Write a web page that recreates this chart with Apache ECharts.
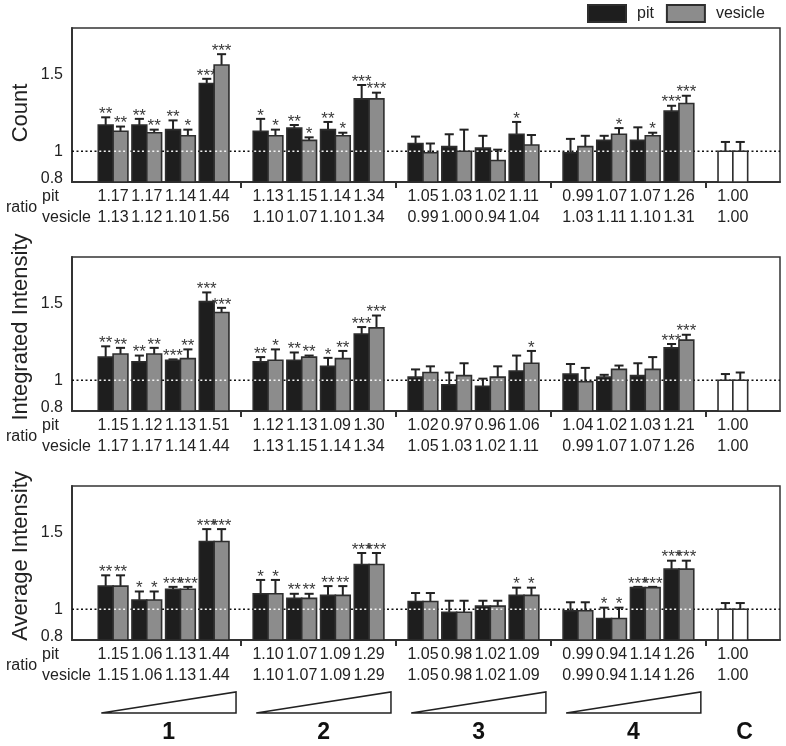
<!DOCTYPE html>
<html><head><meta charset="utf-8">
<script src="https://cdn.jsdelivr.net/npm/echarts@6/dist/echarts.min.js"></script>
<style>html,body{margin:0;padding:0;background:#fff}#c{width:786px;height:746px}</style>
</head><body><div id="c"></div><script>
// ---------- data ----------
const groupLabels = ['1', '2', '3', '4', 'C'];
const panelTitles = ['Count', 'Integrated Intensity', 'Average Intensity'];
const seriesNames = ['pit', 'vesicle'];
const yTickValues = [0.8, 1, 1.5];
const rowLabels = ['pit', 'ratio', 'vesicle'];

// 17 conditions: groups 1-4 (4 doses each) + control C
const countPit      = [1.17,1.17,1.14,1.44, 1.13,1.15,1.14,1.34, 1.05,1.03,1.02,1.11, 0.99,1.07,1.07,1.26, 1.00];
const countPitErr   = [0.05,0.04,0.06,0.03, 0.08,0.02,0.05,0.09, 0.045,0.08,0.08,0.08, 0.09,0.03,0.085,0.035, 0.06];
const countPitSig   = [2,2,2,3, 1,2,2,3, 0,0,0,1, 0,0,0,3, 0];
const countVes      = [1.13,1.12,1.10,1.56, 1.10,1.07,1.10,1.34, 0.99,1.00,0.94,1.04, 1.03,1.11,1.10,1.31, 1.00];
const countVesErr   = [0.03,0.02,0.04,0.07, 0.04,0.02,0.02,0.04, 0.06,0.14,0.07,0.065, 0.07,0.04,0.02,0.05, 0.06];
const countVesSig   = [2,2,1,3, 1,1,1,3, 0,0,0,0, 0,1,1,3, 0];

const intPit        = [1.15,1.12,1.13,1.51, 1.12,1.13,1.09,1.30, 1.02,0.97,0.96,1.06, 1.04,1.02,1.03,1.21, 1.00];
const intPitErr     = [0.07,0.04,0.005,0.06, 0.03,0.05,0.055,0.045, 0.05,0.08,0.05,0.10, 0.065,0.015,0.08,0.025, 0.04];
const intPitSig     = [2,2,3,3, 2,2,1,3, 0,0,0,0, 0,0,0,3, 0];
const intVes        = [1.17,1.17,1.14,1.44, 1.13,1.15,1.14,1.34, 1.05,1.03,1.02,1.11, 0.99,1.07,1.07,1.26, 1.00];
const intVesErr     = [0.04,0.04,0.06,0.03, 0.07,0.01,0.05,0.08, 0.04,0.08,0.07,0.08, 0.09,0.025,0.08,0.035, 0.05];
const intVesSig     = [2,2,2,3, 1,2,2,3, 0,0,0,1, 0,0,0,3, 0];

const avgPit        = [1.15,1.06,1.13,1.44, 1.10,1.07,1.09,1.29, 1.05,0.98,1.02,1.09, 0.99,0.94,1.14,1.26, 1.00];
const avgPitErr     = [0.07,0.055,0.015,0.08, 0.09,0.03,0.06,0.075, 0.055,0.075,0.035,0.05, 0.055,0.07,0.005,0.055, 0.04];
const avgPitSig     = [2,1,3,3, 1,2,2,3, 0,0,0,1, 0,1,3,3, 0];
const avgVes        = [1.15,1.06,1.13,1.44, 1.10,1.07,1.09,1.29, 1.05,0.98,1.02,1.09, 0.99,0.94,1.14,1.26, 1.00];
const avgVesErr     = [0.07,0.055,0.015,0.08, 0.09,0.03,0.06,0.075, 0.055,0.075,0.035,0.05, 0.055,0.07,0.005,0.055, 0.04];
const avgVesSig     = [2,1,3,3, 1,2,2,3, 0,0,0,1, 0,1,3,3, 0];

// ---------- layout / style ----------
const FONT = '"Liberation Sans", Arial, sans-serif';
const PIT_COLOR = '#1e1e1e', VES_COLOR = '#8c8c8c', EDGE = '#2e2e2e';
const GROUP_PITCH = 4.6;            // in units of one bar-pair pitch
const X_MIN = -1.22, X_MAX = 19.8;
const GRID_LEFT = 72, GRID_WIDTH = 708, GRID_H = 154;
const GRID_TOPS = [28, 257, 486];
const titleCenters = [113, 327, 556];

function catX(i) { return i === 16 ? 4 * GROUP_PITCH : Math.floor(i / 4) * GROUP_PITCH + (i % 4); }
const separators = [0, 1, 2, 3].map(g => g * GROUP_PITCH + 3.8);
const idx = countPit.map((_, i) => i);

const panels = [
  { pit: countPit, pitErr: countPitErr, pitSig: countPitSig, ves: countVes, vesErr: countVesErr, vesSig: countVesSig },
  { pit: intPit, pitErr: intPitErr, pitSig: intPitSig, ves: intVes, vesErr: intVesErr, vesSig: intVesSig },
  { pit: avgPit, pitErr: avgPitErr, pitSig: avgPitSig, ves: avgVes, vesErr: avgVesErr, vesSig: avgVesSig }
];

function txt(text, x, y, opt) {
  return Object.assign({ text, x, y, font: '16px ' + FONT, fill: '#222',
    align: 'center', verticalAlign: 'middle', textAlign: 'center', textVerticalAlign: 'middle' }, opt || {});
}

function barRender(side, fill) {
  return function (params, api) {
    const x = api.value(0), v = api.value(1), err = api.value(2), sig = api.value(3), ctrl = api.value(4);
    const unit = api.size([1, 0])[0];
    const bw = unit * 0.44;
    const base = api.coord([x, 0.8]);
    const top = api.coord([x, v]);
    const cx = base[0] + side * bw / 2;
    const capY = api.coord([x, v + err])[1];
    const oneY = api.coord([x, 1])[1];
    const capW = unit * 0.27;
    const ch = [];
    ch.push({ type: 'line', shape: { x1: cx, y1: top[1], x2: cx, y2: capY }, style: { stroke: '#222', lineWidth: 2 } });
    ch.push({ type: 'line', shape: { x1: cx - capW / 2, y1: capY, x2: cx + capW / 2, y2: capY }, style: { stroke: '#222', lineWidth: 2 } });
    ch.push({ type: 'rect', shape: { x: cx - bw / 2, y: top[1], width: bw, height: base[1] - top[1] },
      style: { fill: ctrl ? '#fff' : fill, stroke: EDGE, lineWidth: 1.6 } });
    if (v > 1.005 && !ctrl) {
      ch.push({ type: 'line', shape: { x1: cx - bw / 2 + 1, y1: oneY, x2: cx + bw / 2 - 1, y2: oneY },
        style: { stroke: '#f4f4f4', lineWidth: 1.6, lineDash: [2, 2.5] } });
    }
    if (sig > 0) {
      ch.push({ type: 'text', style: txt('*'.repeat(sig), cx, capY - 3, { fill: '#3a3a3a', font: '17px ' + FONT }) });
    }
    return { type: 'group', children: ch };
  };
}

function ratioRender(params, api) {
  const x = api.value(0);
  const p = api.coord([x, 0.8]);
  return { type: 'group', children: [
    { type: 'text', style: txt(api.value(1).toFixed(2), p[0], p[1] + 15) },
    { type: 'text', style: txt(api.value(2).toFixed(2), p[0], p[1] + 36) }
  ]};
}

function triRender(params, api) {
  const xl = api.value(0), xr = api.value(1), g = api.value(2);
  const unit = api.size([1, 0])[0];
  const b = api.coord([xl, 0.8])[1];
  const ch = [];
  let lx;
  if (g < 4) {
    const L = api.coord([xl, 0.8])[0] - 0.35 * unit;
    const R = api.coord([xr, 0.8])[0] + 0.65 * unit;
    ch.push({ type: 'polygon', shape: { points: [[L, b + 73], [R, b + 73], [R, b + 52]] },
      style: { fill: '#fff', stroke: '#222', lineWidth: 1.5 } });
    lx = (L + R) / 2;
  } else {
    lx = api.coord([xl, 0.8])[0] + 0.35 * unit;
  }
  ch.push({ type: 'text', style: txt(groupLabels[g], lx, b + 93, { font: 'bold 23px ' + FONT, fill: '#111' }) });
  return { type: 'group', children: ch };
}

const grids = [], xAxes = [], yAxes = [], series = [], graphics = [];
panels.forEach((P, k) => {
  grids.push({ left: GRID_LEFT, top: GRID_TOPS[k], width: GRID_WIDTH, height: GRID_H,
    show: true, borderColor: '#333', borderWidth: 1.5, backgroundColor: 'transparent' });
  xAxes.push({ type: 'value', gridIndex: k, min: X_MIN, max: X_MAX,
    axisLine: { show: true, onZero: false, lineStyle: { color: '#333', width: 2 } },
    axisTick: { show: true, inside: false, length: 6, customValues: separators, lineStyle: { color: '#333', width: 2 } },
    axisLabel: { show: false }, splitLine: { show: false } });
  yAxes.push({ type: 'value', gridIndex: k, min: 0.8, max: 1.8,
    axisLine: { show: true, onZero: false, lineStyle: { color: '#333', width: 2 } },
    axisTick: { show: false }, splitLine: { show: false },
    axisLabel: { customValues: yTickValues, margin: 9, color: '#222', fontSize: 16, fontFamily: FONT,
      formatter: v => (Math.abs(v - 0.8) < 1e-6 ? '{low|0.8}' : String(v)),
      rich: { low: { fontSize: 16, fontFamily: FONT, color: '#222', padding: [0, 0, 6, 0] } } } });
  series.push({ type: 'line', xAxisIndex: k, yAxisIndex: k, silent: true, z: 1, symbol: 'none',
    data: [[X_MIN, 1], [X_MAX, 1]], lineStyle: { color: '#111', width: 1.6, type: [2, 2.5] } });
  series.push({ type: 'custom', name: seriesNames[0], xAxisIndex: k, yAxisIndex: k, z: 3, clip: false,
    itemStyle: { color: PIT_COLOR, borderColor: EDGE, borderWidth: 1.5 },
    renderItem: barRender(-1, PIT_COLOR), encode: { x: 0, y: 1 },
    data: idx.map(i => [catX(i), P.pit[i], P.pitErr[i], P.pitSig[i], i === 16 ? 1 : 0]) });
  series.push({ type: 'custom', name: seriesNames[1], xAxisIndex: k, yAxisIndex: k, z: 3, clip: false,
    itemStyle: { color: VES_COLOR, borderColor: EDGE, borderWidth: 1.5 },
    renderItem: barRender(1, VES_COLOR), encode: { x: 0, y: 1 },
    data: idx.map(i => [catX(i), P.ves[i], P.vesErr[i], P.vesSig[i], i === 16 ? 1 : 0]) });
  series.push({ type: 'custom', xAxisIndex: k, yAxisIndex: k, z: 3, clip: false, silent: true,
    renderItem: ratioRender, encode: { x: 0, y: 1 },
    data: idx.map(i => [catX(i), P.pit[i], P.ves[i]]) });
  const b = GRID_TOPS[k] + GRID_H;
  graphics.push({ type: 'text', x: 21, y: titleCenters[k], rotation: Math.PI / 2,
    style: txt(panelTitles[k], 0, 0, { font: '22px ' + FONT, fill: '#222' }) });
  graphics.push({ type: 'text', x: 42, y: b + 15, style: txt(rowLabels[0], 0, 0, { align: 'left', textAlign: 'left' }) });
  graphics.push({ type: 'text', x: 6, y: b + 26, style: txt(rowLabels[1], 0, 0, { align: 'left', textAlign: 'left' }) });
  graphics.push({ type: 'text', x: 42, y: b + 36, style: txt(rowLabels[2], 0, 0, { align: 'left', textAlign: 'left' }) });
});
series.push({ type: 'custom', xAxisIndex: 2, yAxisIndex: 2, z: 3, clip: false, silent: true,
  renderItem: triRender, encode: { x: 0, y: 1 },
  data: [0, 1, 2, 3, 4].map(g => g < 4 ? [catX(g * 4), catX(g * 4 + 3), g] : [catX(16), catX(16), g]) });

const chart = echarts.init(document.getElementById('c'), null, { renderer: 'canvas' });
chart.setOption({
  animation: false,
  backgroundColor: '#fff',
  legend: { data: [{ name: 'pit', icon: 'rect' }, { name: 'vesicle', icon: 'rect' }],
    left: 587, top: 4, itemWidth: 38, itemHeight: 17, itemGap: 12, padding: 0, selectedMode: false,
    textStyle: { fontSize: 16, fontFamily: FONT, color: '#222', padding: [0, 0, 0, 6] } },
  grid: grids, xAxis: xAxes, yAxis: yAxes, series: series, graphic: graphics
});
</script></body></html>
